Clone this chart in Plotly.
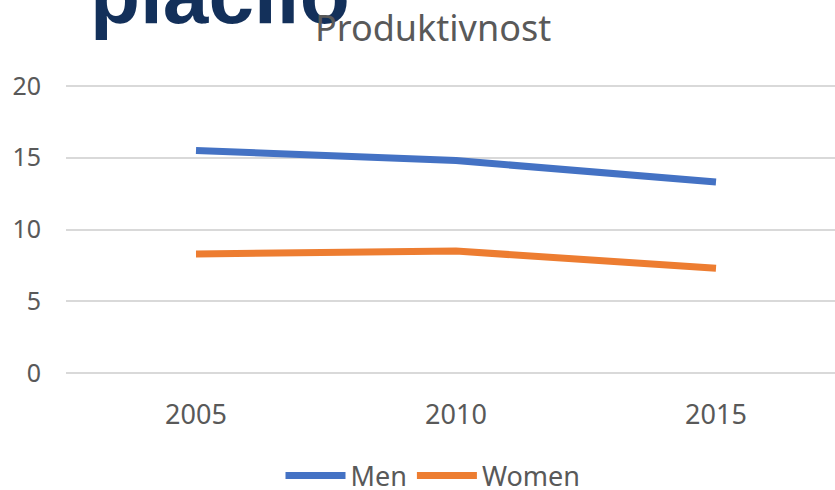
import plotly.graph_objects as go

years = ["2005", "2010", "2015"]
men = [15.5, 14.8, 13.3]
women = [8.3, 8.5, 7.3]
y_ticks = [0, 5, 10, 15, 20]
title_text = "Produktivnost"
banner_text = "plačilo"

W, H = 835, 490
L, R, T, B = 66, 0, 83, 114
plot_w = W - L - R
plot_h = H - T - B

fig = go.Figure()
fig.add_trace(go.Scatter(x=years, y=men, name="Men", mode="lines",
                         line=dict(color="#4472C4", width=7)))
fig.add_trace(go.Scatter(x=years, y=women, name="Women", mode="lines",
                         line=dict(color="#ED7D31", width=7)))

def px_x(p):
    return (p - L) / plot_w

def px_y(p):
    return (H - B - p) / plot_h

fig.update_layout(
    template="none",
    width=W, height=H,
    margin=dict(l=L, r=R, t=T, b=B, pad=0, autoexpand=False),
    paper_bgcolor="white", plot_bgcolor="white",
    font=dict(family="Noto Sans", color="#595959"),
    showlegend=True,
    legend=dict(orientation="h", xref="container", yref="container",
                x=433 / W, xanchor="center", y=1 - 476 / H, yanchor="middle",
                font=dict(size=27, color="#595959"), itemwidth=60,
                bgcolor="rgba(0,0,0,0)"),
    xaxis=dict(type="category", range=[-0.5, -0.5 + plot_w / 260.0],
               showgrid=False, zeroline=False, showline=False, ticks="",
               automargin=False,
               tickfont=dict(size=27, color="#595959"),
               ticklabelstandoff=20),
    yaxis=dict(range=[-0.2, 20.2], tickvals=y_ticks, showgrid=True,
               gridcolor="#D9D9D9", gridwidth=1.5, zeroline=False,
               showline=False, ticks="", automargin=False,
               tickfont=dict(size=25, color="#595959"),
               ticklabelstandoff=24),
    annotations=[
        dict(text=banner_text, xref="paper", yref="paper",
             x=px_x(88), xanchor="left", y=px_y(-5), yanchor="middle",
             showarrow=False,
             font=dict(family="Liberation Sans", size=82, color="#13305A",
                       weight="bold")),
        dict(text=title_text, xref="paper", yref="paper",
             x=px_x(433), xanchor="center", y=px_y(27), yanchor="middle",
             showarrow=False,
             font=dict(family="Noto Sans", size=36, color="#595959")),
    ],
)

fig.write_html("out.html", config={"displayModeBar": False},
               post_script="document.body.style.margin='0';document.body.style.overflow='hidden';")
